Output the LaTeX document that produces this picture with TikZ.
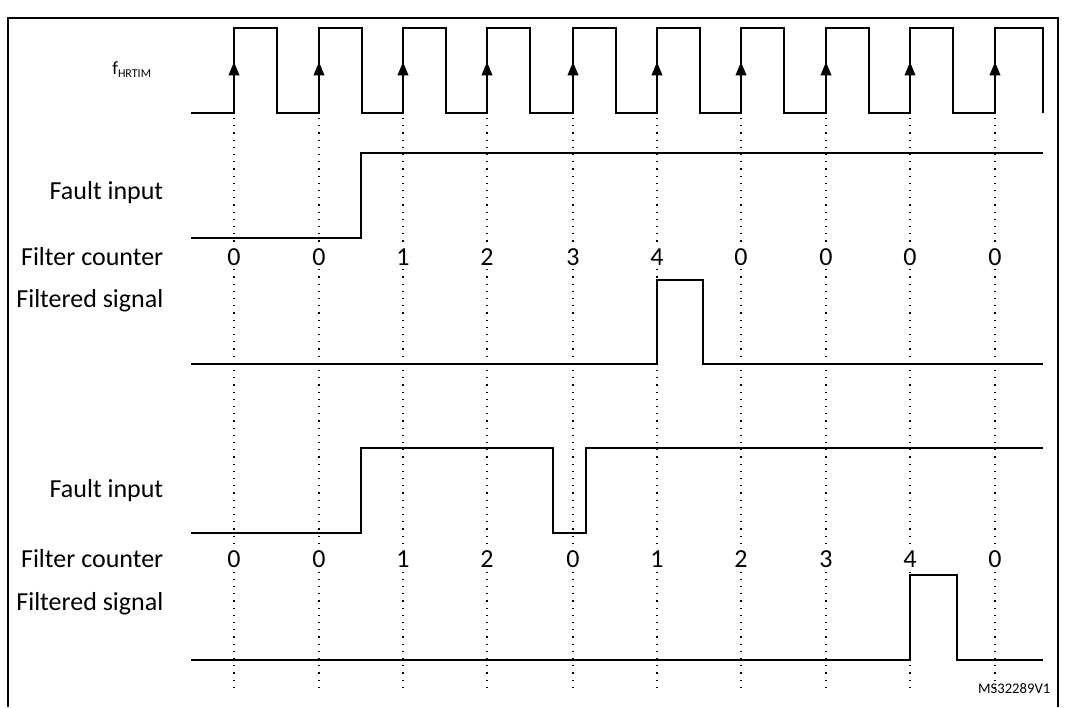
\documentclass[tikz,border=0pt]{standalone}
\usepackage{fontspec}
\setmainfont{Carlito}
\usetikzlibrary{arrows.meta}
\begin{document}
\begin{tikzpicture}[x=0.75pt,y=-0.75pt,
  sig/.style={line width=1.2pt},
  dots/.style={line width=0.9pt,dash pattern=on 0.9pt off 4.5pt},
  lab/.style={anchor=east,font=\fontsize{14}{16}\selectfont},
  cnt/.style={font=\fontsize{14}{16}\selectfont}]
\useasboundingbox (0,0) rectangle (1066,707);
\draw[line width=1.5pt] (8,707) -- (8,18) -- (1058,18) -- (1058,707);
% clock
\def\edges{234,319,403,487,573,657,741,826,910,995}
\foreach \e in \edges {
  \draw[dots] (\e,118) -- (\e,690);
}
\draw[sig] (191,113)
  \foreach \e in {234,319,403,487,573,657,741,826,910} { -- (\e,113) -- (\e,28) -- ({\e+43},28) -- ({\e+43},113) }
  -- (995,113) -- (995,28) -- (1043,28) -- (1043,113);
\foreach \e [count=\i] in \edges {
  \coordinate (a\i) at (\e,84);
  \coordinate (b\i) at (\e,62);
  \draw[-{Triangle[length=10pt,width=8pt]},line width=1.2pt] (a\i) -- (b\i);
}
\node[font=\fontsize{14}{16}\selectfont] (fh) at (132,70) {f\textsubscript{\fontsize{9}{10}\selectfont HRTIM}};
% first case
\draw[sig] (191,238) -- (361,238) -- (361,153) -- (1043,153);
\draw[sig] (191,364) -- (657,364) -- (657,280) -- (703,280) -- (703,364) -- (1043,364);
% second case
\draw[sig] (191,533) -- (361,533) -- (361,448) -- (553,448) -- (553,533) -- (586,533) -- (586,448) -- (1043,448);
\draw[sig] (191,660) -- (910,660) -- (910,575) -- (957,575) -- (957,660) -- (1043,660);
% labels
\begin{scope}[lab/.append style={font=\fontsize{19.5}{22}\selectfont},cnt/.append style={font=\fontsize{19.5}{22}\selectfont}]
\node[lab] (l1) at (168,193) {Fault input};
\node[lab] (l2) at (168,257) {Filter counter};
\node[lab] (l3) at (168,301) {Filtered signal};
\node[lab] (l4) at (168,491) {Fault input};
\node[lab] (l5) at (168,559) {Filter counter};
\node[lab] (l6) at (168,604) {Filtered signal};
\foreach \e/\v [count=\i] in {234/0,319/0,403/1,487/2,573/3,657/4,741/0,826/0,910/0,995/0}
  \node[cnt,fill=white,inner sep=1pt] (c\i) at (\e,257) {\v};
\foreach \e/\v [count=\i] in {234/0,319/0,403/1,487/2,573/0,657/1,741/2,826/3,910/4,995/0}
  \node[cnt,fill=white,inner sep=1pt] (d\i) at (\e,559) {\v};
\end{scope}
\node[anchor=east,font=\fontsize{11}{12}\selectfont] (ms) at (1055,689) {MS32289V1};
\end{tikzpicture}
\end{document}
